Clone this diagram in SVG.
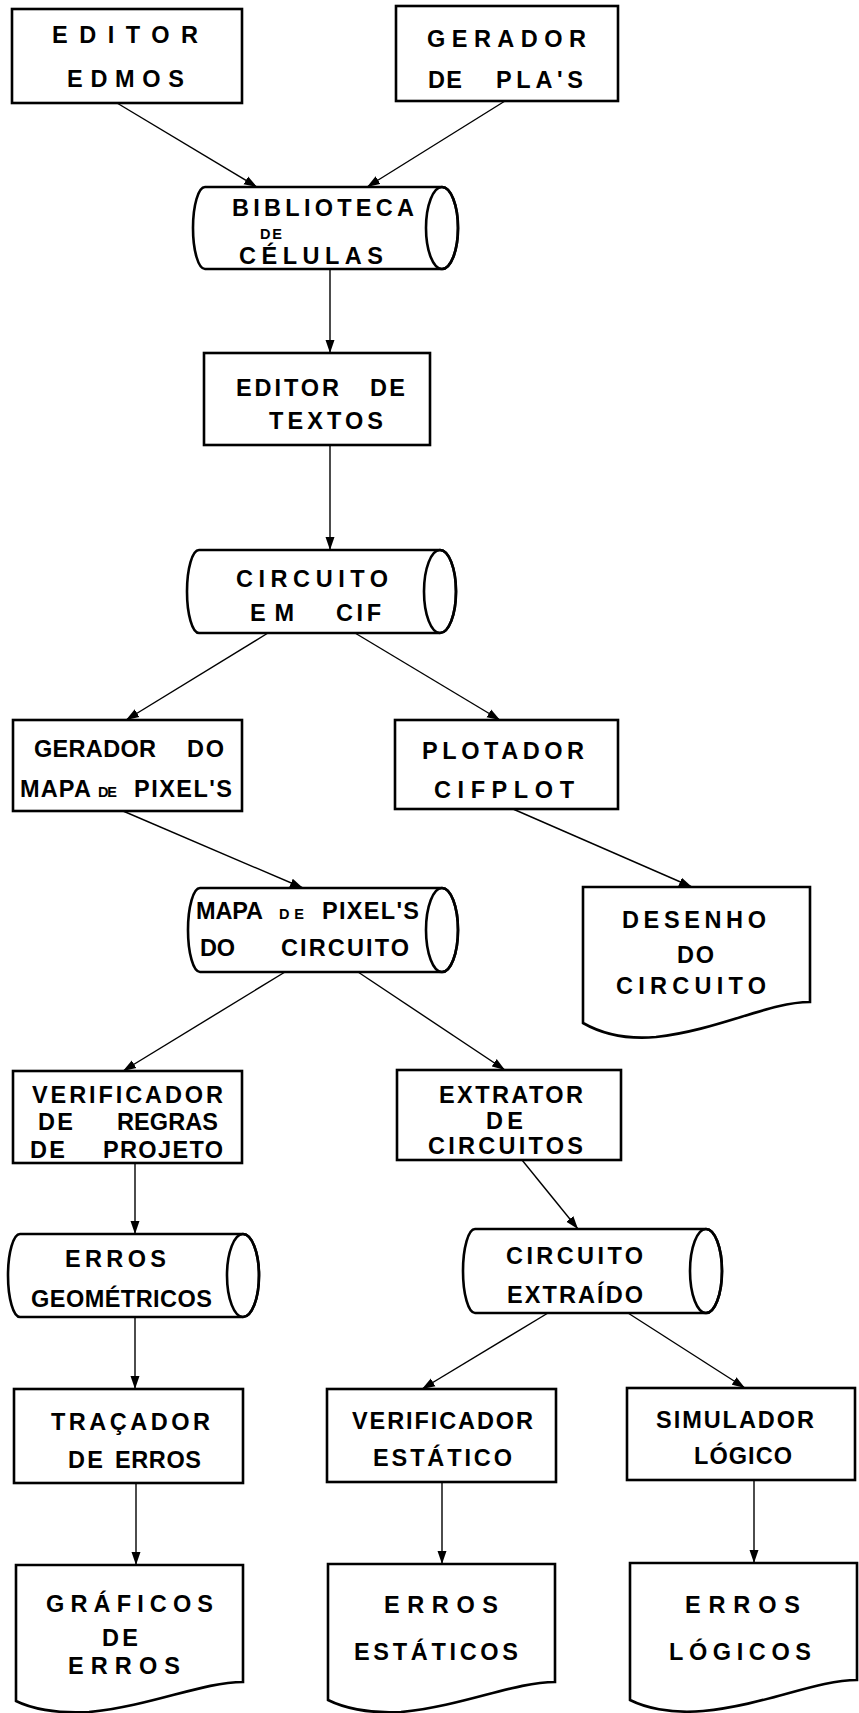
<svg xmlns="http://www.w3.org/2000/svg" width="859" height="1713" viewBox="0 0 859 1713">
<style>
.b{fill:#fff;stroke:#000;stroke-width:2.6}
.e{fill:none;stroke:#000;stroke-width:2.6}
.t{font-family:"Liberation Sans",Arial,Helvetica,sans-serif;font-size:23.5px;font-weight:bold;fill:#000}
.s{font-size:14.5px}
.c{fill:none;stroke:#000;stroke-width:1.4;marker-end:url(#ah)}
</style>
<defs>
<marker id="ah" markerUnits="userSpaceOnUse" markerWidth="14" markerHeight="10" refX="13" refY="5" orient="auto">
<path d="M0,0.5 L13,5 L0,9.5 Z" fill="#000"/>
</marker>
</defs>
<rect width="859" height="1713" fill="#fff"/>

<g id="connectors">
<line class="c" x1="117" y1="103" x2="257" y2="187"/>
<line class="c" x1="505" y1="101" x2="367" y2="187"/>
<line class="c" x1="330" y1="269" x2="330" y2="353"/>
<line class="c" x1="330" y1="445" x2="330" y2="550"/>
<line class="c" x1="268" y1="633" x2="126" y2="720"/>
<line class="c" x1="355" y1="633" x2="500" y2="720"/>
<line class="c" x1="123" y1="811" x2="303" y2="888"/>
<line class="c" x1="513" y1="809" x2="692" y2="887"/>
<line class="c" x1="285" y1="972" x2="123" y2="1071"/>
<line class="c" x1="358" y1="972" x2="505" y2="1070"/>
<line class="c" x1="135" y1="1163" x2="135" y2="1234"/>
<line class="c" x1="522" y1="1160" x2="578" y2="1229"/>
<line class="c" x1="135" y1="1317" x2="135" y2="1389"/>
<line class="c" x1="548" y1="1313" x2="422" y2="1389"/>
<line class="c" x1="628" y1="1313" x2="745" y2="1388"/>
<line class="c" x1="136" y1="1483" x2="136" y2="1565"/>
<line class="c" x1="442" y1="1482" x2="442" y2="1564"/>
<line class="c" x1="754" y1="1480" x2="754" y2="1563"/>
</g>

<g id="editor-edmos">
<rect class="b" x="12" y="9" width="230" height="94"/>
<text class="t" x="52" y="43" textLength="146" lengthAdjust="spacing">EDITOR</text>
<text class="t" x="67" y="87" textLength="117" lengthAdjust="spacing">EDMOS</text>
</g>

<g id="gerador-plas">
<rect class="b" x="396" y="6" width="222" height="95"/>
<text class="t" x="427" y="47" textLength="159" lengthAdjust="spacing">GERADOR</text>
<text class="t" y="88"><tspan x="428" textLength="34" lengthAdjust="spacing">DE</tspan> <tspan x="496" textLength="87" lengthAdjust="spacing">PLA'S</tspan></text>
</g>

<g id="biblioteca">
<path class="b" d="M205,187 H442 A16,41 0 0 1 442,269 H205 A12,41 0 0 1 205,187 Z"/>
<ellipse class="e" cx="442" cy="228" rx="16" ry="41"/>
<text class="t" x="232" y="216" textLength="182" lengthAdjust="spacing">BIBLIOTECA</text>
<text class="t s" x="260" y="239" textLength="22" lengthAdjust="spacing">DE</text>
<text class="t" x="239" y="264" textLength="144" lengthAdjust="spacing">CÉLULAS</text>
</g>

<g id="editor-textos">
<rect class="b" x="204" y="353" width="226" height="92"/>
<text class="t" y="396"><tspan x="236" textLength="103" lengthAdjust="spacing">EDITOR</tspan> <tspan x="370" textLength="35" lengthAdjust="spacing">DE</tspan></text>
<text class="t" x="269" y="429" textLength="114" lengthAdjust="spacing">TEXTOS</text>
</g>

<g id="circuito-cif">
<path class="b" d="M199,550 H440 A16,41.5 0 0 1 440,633 H199 A12,41.5 0 0 1 199,550 Z"/>
<ellipse class="e" cx="440" cy="591.5" rx="16" ry="41.5"/>
<text class="t" x="236" y="587" textLength="152" lengthAdjust="spacing">CIRCUITO</text>
<text class="t" y="621"><tspan x="250" textLength="44" lengthAdjust="spacing">EM</tspan> <tspan x="336" textLength="45" lengthAdjust="spacing">CIF</tspan></text>
</g>

<g id="gerador-mapa">
<rect class="b" x="13" y="720" width="229" height="91"/>
<text class="t" y="757"><tspan x="34" textLength="122" lengthAdjust="spacing">GERADOR</tspan> <tspan x="187" textLength="37" lengthAdjust="spacing">DO</tspan></text>
<text class="t" y="797"><tspan x="20" textLength="70" lengthAdjust="spacing">MAPA</tspan> <tspan class="s" x="98" textLength="19" lengthAdjust="spacing">DE</tspan> <tspan x="134" textLength="98" lengthAdjust="spacing">PIXEL'S</tspan></text>
</g>

<g id="plotador">
<rect class="b" x="395" y="720" width="223" height="89"/>
<text class="t" x="422" y="759" textLength="162" lengthAdjust="spacing">PLOTADOR</text>
<text class="t" x="434" y="798" textLength="140" lengthAdjust="spacing">CIFPLOT</text>
</g>

<g id="mapa-pixels">
<path class="b" d="M200,888 H442 A16,42 0 0 1 442,972 H200 A12,42 0 0 1 200,888 Z"/>
<ellipse class="e" cx="442" cy="930" rx="16" ry="42"/>
<text class="t" y="919"><tspan x="196" textLength="66" lengthAdjust="spacing">MAPA</tspan> <tspan class="s" x="279" textLength="25" lengthAdjust="spacing">DE</tspan> <tspan x="322" textLength="97" lengthAdjust="spacing">PIXEL'S</tspan></text>
<text class="t" y="956"><tspan x="200" textLength="35" lengthAdjust="spacing">DO</tspan> <tspan x="281" textLength="128" lengthAdjust="spacing">CIRCUITO</tspan></text>
</g>

<g id="desenho">
<path class="b" d="M583,887 H810 V1002 C769,1002 719,1030 656,1037 C622,1040 597,1031 583,1023 Z"/>
<text class="t" x="622" y="928" textLength="144" lengthAdjust="spacing">DESENHO</text>
<text class="t" x="677" y="963" textLength="37" lengthAdjust="spacing">DO</text>
<text class="t" x="616" y="994" textLength="150" lengthAdjust="spacing">CIRCUITO</text>
</g>

<g id="verificador-regras">
<rect class="b" x="13" y="1071" width="229" height="92"/>
<text class="t" x="32" y="1103" textLength="191" lengthAdjust="spacing">VERIFICADOR</text>
<text class="t" y="1130"><tspan x="38" textLength="35" lengthAdjust="spacing">DE</tspan> <tspan x="117" textLength="101" lengthAdjust="spacing">REGRAS</tspan></text>
<text class="t" y="1158"><tspan x="30" textLength="35" lengthAdjust="spacing">DE</tspan> <tspan x="103" textLength="120" lengthAdjust="spacing">PROJETO</tspan></text>
</g>

<g id="extrator">
<rect class="b" x="397" y="1070" width="224" height="90"/>
<text class="t" x="439" y="1103" textLength="144" lengthAdjust="spacing">EXTRATOR</text>
<text class="t" x="486" y="1129" textLength="37" lengthAdjust="spacing">DE</text>
<text class="t" x="428" y="1154" textLength="155" lengthAdjust="spacing">CIRCUITOS</text>
</g>

<g id="erros-geometricos">
<path class="b" d="M20,1234 H243 A16,41.5 0 0 1 243,1317 H20 A12,41.5 0 0 1 20,1234 Z"/>
<ellipse class="e" cx="243" cy="1275.5" rx="16" ry="41.5"/>
<text class="t" x="65" y="1267" textLength="101" lengthAdjust="spacing">ERROS</text>
<text class="t" x="31" y="1307" textLength="181" lengthAdjust="spacing">GEOMÉTRICOS</text>
</g>

<g id="circuito-extraido">
<path class="b" d="M475,1229 H706 A16,42 0 0 1 706,1313 H475 A12,42 0 0 1 475,1229 Z"/>
<ellipse class="e" cx="706" cy="1271" rx="16" ry="42"/>
<text class="t" x="506" y="1264" textLength="137" lengthAdjust="spacing">CIRCUITO</text>
<text class="t" x="507" y="1303" textLength="136" lengthAdjust="spacing">EXTRAÍDO</text>
</g>

<g id="tracador">
<rect class="b" x="14" y="1389" width="229" height="94"/>
<text class="t" x="51" y="1430" textLength="159" lengthAdjust="spacing">TRAÇADOR</text>
<text class="t" y="1468"><tspan x="68" textLength="35" lengthAdjust="spacing">DE</tspan> <tspan x="115" textLength="86" lengthAdjust="spacing">ERROS</tspan></text>
</g>

<g id="verificador-estatico">
<rect class="b" x="327" y="1389" width="229" height="93"/>
<text class="t" x="352" y="1429" textLength="181" lengthAdjust="spacing">VERIFICADOR</text>
<text class="t" x="373" y="1466" textLength="139" lengthAdjust="spacing">ESTÁTICO</text>
</g>

<g id="simulador">
<rect class="b" x="627" y="1388" width="228" height="92"/>
<text class="t" x="656" y="1428" textLength="158" lengthAdjust="spacing">SIMULADOR</text>
<text class="t" x="694" y="1464" textLength="98" lengthAdjust="spacing">LÓGICO</text>
</g>

<g id="graficos-erros">
<path class="b" d="M16,1565 H243 V1682 C202,1682 152,1706 89,1712 C55,1714 30,1708 16,1701 Z"/>
<text class="t" x="46" y="1612" textLength="167" lengthAdjust="spacing">GRÁFICOS</text>
<text class="t" x="102" y="1646" textLength="36" lengthAdjust="spacing">DE</text>
<text class="t" x="68" y="1674" textLength="112" lengthAdjust="spacing">ERROS</text>
</g>

<g id="erros-estaticos">
<path class="b" d="M328,1564 H555 V1682 C514,1682 464,1706 401,1712 C367,1714 342,1707 328,1700 Z"/>
<text class="t" x="384" y="1613" textLength="114" lengthAdjust="spacing">ERROS</text>
<text class="t" x="354" y="1660" textLength="164" lengthAdjust="spacing">ESTÁTICOS</text>
</g>

<g id="erros-logicos">
<path class="b" d="M630,1563 H857 V1680 C816,1680 766,1705 703,1711 C669,1714 644,1707 630,1700 Z"/>
<text class="t" x="685" y="1613" textLength="115" lengthAdjust="spacing">ERROS</text>
<text class="t" x="669" y="1660" textLength="142" lengthAdjust="spacing">LÓGICOS</text>
</g>
</svg>
